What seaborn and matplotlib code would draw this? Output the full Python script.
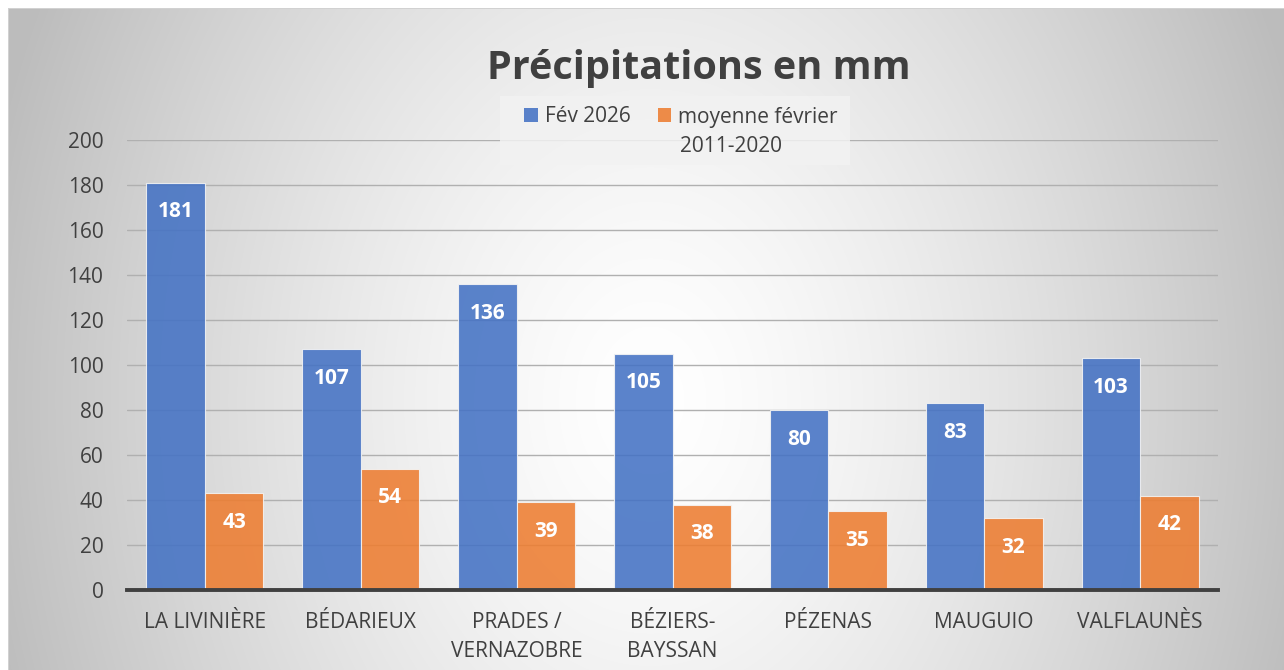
import numpy as np
import pandas as pd
import matplotlib
matplotlib.use("Agg")
import matplotlib.pyplot as plt
from matplotlib.patches import Patch, Rectangle
import seaborn as sns

categories = ["LA LIVINIÈRE", "BÉDARIEUX", "PRADES /\nVERNAZOBRE", "BÉZIERS-\nBAYSSAN",
              "PÉZENAS", "MAUGUIO", "VALFLAUNÈS"]
fev_2026 = [181, 107, 136, 105, 80, 83, 103]
moyenne_fevrier = [43, 54, 39, 38, 35, 32, 42]
series_names = ["Fév 2026", "moyenne février 2011-2020"]
yticks = [0, 20, 40, 60, 80, 100, 120, 140, 160, 180, 200]
title = "Précipitations en mm"

sns.set_theme(style="white")
plt.rcParams['font.family'] = ['Open Sans', 'DejaVu Sans']

df = pd.DataFrame({
    "cat": categories * 2,
    "val": fev_2026 + moyenne_fevrier,
    "serie": [series_names[0]] * len(categories) + [series_names[1]] * len(categories),
})

W, H = 1284, 670
fig = plt.figure(figsize=(W / 100, H / 100), dpi=100)
fig.patch.set_facecolor("white")

# background radial gradient
bg = fig.add_axes([0, 0, 1, 1], zorder=-10)
xx, yy = np.meshgrid(np.arange(W), np.arange(H))
d = np.sqrt(((xx - 650) / 680.0) ** 2 + ((yy - 400) / 900.0) ** 2)
v = 1 - 0.26 * np.clip(d, 0, 1) ** 1.4
img = np.dstack([v, v, v])
img[:8, :, :] = 1.0
img[:, :8, :] = 1.0
img[8, 8:, :] = 0.82
img[8:, 8, :] = 0.82
bg.imshow(img, extent=[0, W, H, 0], aspect="auto", interpolation="bilinear")
bg.set_xlim(0, W)
bg.set_ylim(H, 0)
bg.axis("off")

ax = fig.add_axes([127 / W, 1 - 590 / H, (1218 - 127) / W, (590 - 140) / H])
ax.set_facecolor("none")

colors = ["#4472C4", "#ED7D31"]
sns.barplot(data=df, x="cat", y="val", hue="serie", palette=colors, width=0.75,
            saturation=1, alpha=0.88, edgecolor="#f4f4f4", linewidth=0.8,
            ax=ax, legend=False)

ax.set_ylim(0, 200)
ax.set_yticks(yticks)
ax.set_yticklabels([str(t) for t in yticks])
ax.yaxis.grid(True, color="#b0b0b0", linewidth=1)
ax.set_axisbelow(True)
for s in ["top", "right", "left"]:
    ax.spines[s].set_visible(False)
ax.spines["bottom"].set_color("#404040")
ax.spines["bottom"].set_linewidth(2.8)
ax.tick_params(axis="both", length=0, labelcolor="#404040", labelsize=15)
ax.tick_params(axis="y", pad=17)
ax.tick_params(axis="x", pad=16)
for lbl in ax.get_xticklabels():
    lbl.set_linespacing(1.5)
ax.set_xlabel("")
ax.set_ylabel("")

for cont in ax.containers:
    for bar in cont:
        h = bar.get_height()
        ax.annotate(f"{h:.0f}", (bar.get_x() + bar.get_width() / 2, h),
                    xytext=(0, -21), textcoords="offset points",
                    ha="center", va="center", color="white",
                    fontsize=15, fontweight="bold")

fig.text(699 / W, 1 - 68 / H, title, ha="center", va="center",
         fontsize=28.5, fontweight="bold", color="#404040")

# legend background box
fig.patches.append(Rectangle((500 / W, 1 - 165 / H), 350 / W, 69 / H,
                             transform=fig.transFigure, facecolor="#f2f2f2",
                             edgecolor="none", alpha=0.85, zorder=1))
handles = [Patch(facecolor=c, alpha=0.88, edgecolor="none") for c in colors]
leg = fig.legend(handles, ["Fév 2026", "moyenne février"], ncol=2, loc="center",
                 bbox_to_anchor=(681 / W, 1 - 117 / H), frameon=False,
                 fontsize=15, handlelength=0.65, handleheight=0.65,
                 handletextpad=0.35, columnspacing=1.3, borderpad=0.2)
for t in leg.get_texts():
    t.set_color("#404040")
fig.text(731 / W, 1 - 146 / H, "2011-2020", ha="center", va="center",
         fontsize=15, color="#404040")

fig.savefig("out.png", dpi=100)
